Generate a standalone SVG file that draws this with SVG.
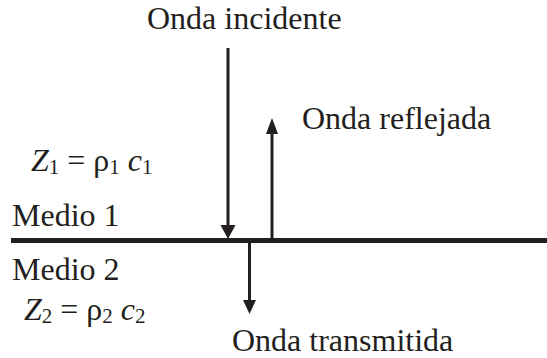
<svg xmlns="http://www.w3.org/2000/svg" width="547" height="358" viewBox="0 0 547 358">
<style>
text{font-family:"Liberation Serif","Times New Roman",serif;font-size:32px;fill:#231f20}
.i{font-style:italic}
.s{font-size:21px}
.ln{stroke:#231f20;stroke-width:3;fill:none}
.hd{fill:#231f20}
</style>
<rect width="547" height="358" fill="#fff"/>
<g id="interface"><rect x="11" y="238" width="536" height="5" fill="#231f20"/></g>
<g id="connectors">
<line class="ln" x1="228" y1="48" x2="228" y2="226"/>
<polygon class="hd" points="220.5,225 235.5,225 228,239"/>
<line class="ln" x1="272" y1="240" x2="272" y2="132"/>
<polygon class="hd" points="266,134 278,134 272,118"/>
<line class="ln" x1="249.5" y1="242" x2="249.5" y2="301"/>
<polygon class="hd" points="243,300 256,300 249.5,314"/>
</g>
<g id="incidente"><text x="147" y="29">Onda incidente</text></g>
<g id="reflejada"><text x="302" y="129">Onda reflejada</text></g>
<g id="transmitida"><text x="232" y="351">Onda transmitida</text></g>
<g id="medio1"><text x="12" y="226">Medio 1</text></g>
<g id="medio2"><text x="12" y="280">Medio 2</text></g>
<g id="z1"><text x="31" y="171"><tspan class="i">Z</tspan><tspan class="s" dy="3">1</tspan><tspan dy="-3"> = ρ</tspan><tspan class="s" dy="3">1</tspan><tspan dy="-3"> </tspan><tspan class="i">c</tspan><tspan class="s" dy="3">1</tspan></text></g>
<g id="z2"><text x="24" y="320"><tspan class="i">Z</tspan><tspan class="s" dy="3">2</tspan><tspan dy="-3"> = ρ</tspan><tspan class="s" dy="3">2</tspan><tspan dy="-3"> </tspan><tspan class="i">c</tspan><tspan class="s" dy="3">2</tspan></text></g>
</svg>
